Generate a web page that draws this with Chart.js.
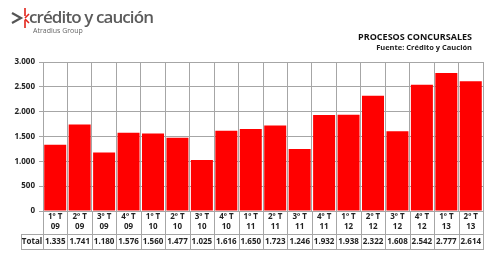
<!DOCTYPE html>
<html>
<head>
<meta charset="utf-8">
<script src="https://cdn.jsdelivr.net/npm/chart.js@4"></script>
<style>
  body { margin: 0; background: #fff; }
  #wrap { position: relative; width: 490px; height: 260px; }
  #logo { position: absolute; left: 10px; top: 4px; }
  .brand { position: absolute; left: 29px; top: 5px; font: 600 17px "Open Sans", sans-serif; color: #5b5b5b; letter-spacing: -0.9px; white-space: nowrap; }
  .group { position: absolute; left: 33px; top: 26px; font: 7px "Open Sans", sans-serif; color: #666; white-space: nowrap; }
  .tit { position: absolute; right: 18px; top: 30px; font: bold 9px "Open Sans", sans-serif; color: #111; white-space: nowrap; }
  .src { position: absolute; right: 18px; top: 42px; font: bold 7.5px "Open Sans", sans-serif; color: #222; white-space: nowrap; }
</style>
</head>
<body>
<div id="wrap">
  <canvas id="myChart" width="490" height="260"></canvas>
  <svg id="logo" width="22" height="26">
    <polyline points="2,9 11,14 2,19" fill="none" stroke="#555" stroke-width="2.2"/>
    <line x1="15" y1="4" x2="15" y2="12" stroke="#e2231a" stroke-width="1.6"/>
    <line x1="15" y1="14" x2="19" y2="10" stroke="#e2231a" stroke-width="1.6"/>
    <line x1="15" y1="15" x2="19" y2="19" stroke="#e2231a" stroke-width="1.6"/>
    <line x1="15" y1="16" x2="15" y2="24" stroke="#e2231a" stroke-width="1.6"/>
  </svg>
  <div class="brand">crédito y caución</div>
  <div class="group">Atradius Group</div>
  <div class="tit">PROCESOS CONCURSALES</div>
  <div class="src">Fuente: Crédito y Caución</div>
</div>
<script>
var trimestres = ['1º T', '2º T', '3º T', '4º T', '1º T', '2º T', '3º T', '4º T', '1º T', '2º T', '3º T', '4º T', '1º T', '2º T', '3º T', '4º T', '1º T', '2º T'];
var anios = ['09', '09', '09', '09', '10', '10', '10', '10', '11', '11', '11', '11', '12', '12', '12', '12', '13', '13'];
var totales = [1335, 1741, 1180, 1576, 1560, 1477, 1025, 1616, 1650, 1723, 1246, 1932, 1938, 2322, 1608, 2542, 2777, 2614];
var yTicks = [0, 500, 1000, 1500, 2000, 2500, 3000];

var lineColor = '#a6a6a6';
var fontTabla = 'bold 8px "Open Sans", sans-serif';

function miles(v) {
  return v.toString().replace(/\B(?=(\d{3})+(?!\d))/g, '.');
}

// tabla de datos bajo el eje x
var tablaPlugin = {
  id: 'tabla',
  afterDraw: function (chart) {
    var c = chart.ctx;
    var x = chart.scales.x;
    var area = chart.chartArea;
    var top = area.bottom;
    var mid = top + 23;
    var bot = top + 38;
    var left = area.left;
    var tableLeft = left - 22;
    var n = trimestres.length;
    var w = (area.right - area.left) / n;

    c.save();
    c.strokeStyle = lineColor;
    c.lineWidth = 1;
    c.beginPath();
    for (var i = 0; i <= n; i++) {
      var px = Math.round(left + i * w) + 0.5;
      c.moveTo(px, top);
      c.lineTo(px, bot);
    }
    c.moveTo(tableLeft + 0.5, mid);
    c.lineTo(tableLeft + 0.5, bot);
    c.moveTo(tableLeft, mid + 0.5);
    c.lineTo(area.right + 1, mid + 0.5);
    c.moveTo(tableLeft, bot + 0.5);
    c.lineTo(area.right + 1, bot + 0.5);
    c.stroke();

    c.fillStyle = '#222';
    c.font = fontTabla;
    c.textAlign = 'center';
    c.textBaseline = 'middle';
    for (var j = 0; j < n; j++) {
      var cx = x.getPixelForValue(j);
      c.fillText(trimestres[j], cx, top + 6);
      c.fillText(anios[j], cx, top + 16);
      c.fillText(miles(totales[j]), cx, mid + 8);
    }
    c.fillText('Total', (tableLeft + left) / 2, mid + 8);
    c.restore();
  }
};

const ctx = document.getElementById('myChart');

const chart = new Chart(ctx, {
  type: 'bar',
  data: {
    labels: trimestres.map((t, i) => t + ' ' + anios[i]),
    datasets: [{
      label: 'Total',
      data: totales,
      backgroundColor: '#ff0000',
      borderWidth: 0,
      barPercentage: 0.9,
      categoryPercentage: 1
    }]
  },
  options: {
    responsive: false,
    animation: false,
    layout: {
      padding: { top: 62, right: 7, bottom: 10, left: 0 }
    },
    plugins: {
      legend: { display: false },
      tooltip: { enabled: false }
    },
    scales: {
      x: {
        offset: true,
        grid: { color: lineColor, offset: true, drawTicks: false },
        border: { color: lineColor },
        ticks: { display: false },
        afterFit: function (s) { s.height = 39; }
      },
      y: {
        min: 0,
        max: 3000,
        afterBuildTicks: function (s) { s.ticks = yTicks.map(v => ({ value: v })); },
        grid: { color: lineColor, tickLength: 4 },
        border: { color: lineColor },
        ticks: {
          color: '#222',
          padding: 4,
          font: { family: 'Open Sans', size: 8, weight: 'bold' },
          callback: function (v) { return miles(v); }
        },
        afterFit: function (s) { s.width = 43; }
      }
    }
  },
  plugins: [tablaPlugin]
});
</script>
</body>
</html>
